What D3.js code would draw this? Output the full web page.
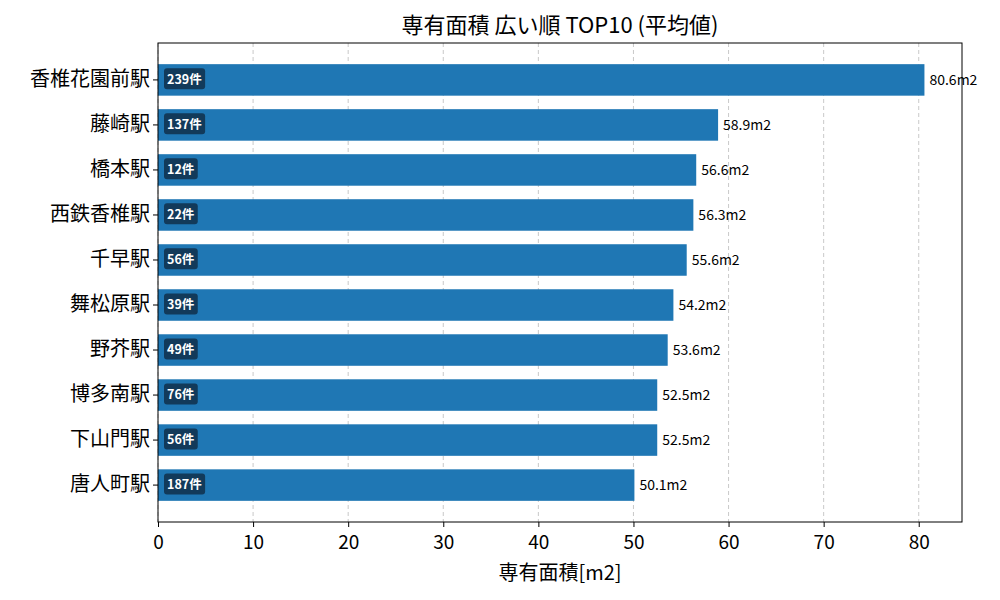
<!DOCTYPE html><html><head><meta charset="utf-8"><script src="https://cdn.jsdelivr.net/npm/d3@7"></script>
<style>body{margin:0;background:#fff}text{font-family:"Noto Sans CJK JP","Noto Sans",sans-serif}</style></head><body><svg id="c" width="1000" height="600"></svg><script>
const stations=["香椎花園前駅","藤崎駅","橋本駅","西鉄香椎駅","千早駅","舞松原駅","野芥駅","博多南駅","下山門駅","唐人町駅"];
const areas=[80.6,58.9,56.6,56.3,55.6,54.2,53.6,52.5,52.5,50.1];
const counts=[239,137,12,22,56,39,49,76,56,187];
const ticks=[0,10,20,30,40,50,60,70,80];
const svg=d3.select("#c");
const L=158,R=962,T=43,B=522;
const x=d3.scaleLinear().domain([0,84.55]).range([L,R]);
const y=d3.scaleBand().domain(stations).range([T,B]).paddingInner(0.3).paddingOuter(0.47);
const g=svg.append("g");
g.selectAll(".grid").data(ticks).join("line").attr("x1",d=>x(d)).attr("x2",d=>x(d)).attr("y1",T).attr("y2",B).attr("stroke","#bbb").attr("stroke-dasharray","4,3").attr("stroke-width",0.8);
g.selectAll(".bar").data(stations).join("rect").attr("x",x(0)).attr("y",d=>y(d)).attr("height",y.bandwidth()).attr("width",(d,i)=>x(areas[i])-x(0)).attr("fill","#1f77b4");
g.selectAll(".val").data(stations).join("text").attr("x",(d,i)=>x(areas[i])+5).attr("y",d=>y(d)+y.bandwidth()/2).attr("dy","0.35em").attr("font-size",14).text((d,i)=>areas[i].toFixed(1)+"m2");
stations.forEach((s,i)=>{
 const t=svg.append("text").attr("x",x(0)+9).attr("y",y(s)+y.bandwidth()/2).attr("dy","0.35em").attr("font-size",12.5).attr("font-weight","bold").attr("fill","#fff").text(counts[i]+"件");
 const bb=t.node().getBBox();
 svg.insert("rect",()=>t.node()).attr("x",bb.x-3).attr("y",bb.y-1).attr("width",bb.width+6).attr("height",bb.height+2).attr("rx",3).attr("fill","#123a5a");
});
svg.append("rect").attr("x",L).attr("y",T).attr("width",R-L).attr("height",B-T).attr("fill","none").attr("stroke","#000");
svg.append("g").attr("transform",`translate(0,${B})`).call(d3.axisBottom(x).tickValues(ticks).tickSize(5).tickSizeOuter(0)).call(a=>{a.select(".domain").remove();a.selectAll("text").attr("font-size",19).attr("dy","1em").style("font-family","Noto Sans CJK JP");});
svg.append("g").attr("transform",`translate(${L},0)`).call(d3.axisLeft(y).tickSize(5).tickSizeOuter(0)).call(a=>{a.select(".domain").remove();a.selectAll("text").attr("font-size",20).style("font-family","Noto Sans CJK JP");});
svg.append("text").attr("x",(L+R)/2).attr("y",580).attr("text-anchor","middle").attr("font-size",20).text("専有面積[m2]");
svg.append("text").attr("x",(L+R)/2).attr("y",33).attr("text-anchor","middle").attr("font-size",22).text("専有面積 広い順 TOP10 (平均値)");
</script></body></html>
